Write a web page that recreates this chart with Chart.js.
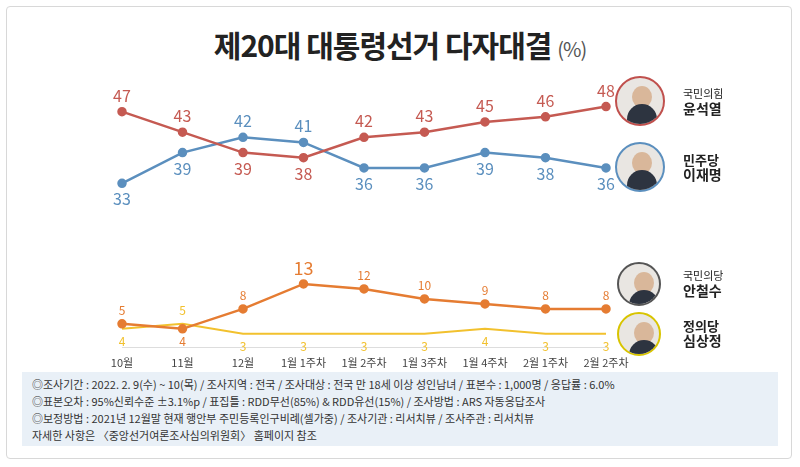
<!DOCTYPE html>
<html><head><meta charset="utf-8">
<script src="https://cdn.jsdelivr.net/npm/chart.js@4"></script>
<style>
body{margin:0;width:800px;height:467px;background:#fff;font-family:"Noto Sans CJK KR","Noto Sans",sans-serif;position:relative;overflow:hidden}
.frame{position:absolute;left:6px;top:6px;width:786px;height:453px;border:1px solid #d8d8d8;border-radius:4px;box-sizing:border-box}
.title{position:absolute;left:0;width:800px;top:22px;text-align:center;font-size:30px;font-weight:700;color:#222;letter-spacing:-1px}
.title span{font-size:20px;font-weight:400;color:#555}
canvas{position:absolute}
.ph{position:absolute;width:50px;height:50px;border-radius:50%;box-sizing:border-box;background:#e9e6e2;overflow:hidden}
.ph:after{content:"";position:absolute;left:10px;top:26px;width:30px;height:30px;border-radius:50%;background:#2d3440}
.ph:before{content:"";position:absolute;left:15px;top:8px;width:20px;height:22px;border-radius:50%;background:#d9b79a}
.nm{position:absolute;font-size:11px;color:#222;line-height:15px}
.nm b{font-size:14px;display:block}
.foot{position:absolute;left:22px;top:372px;width:756px;height:74px;background:#e9f0f7;font-size:11px;color:#333;line-height:17px;padding:4px 10px;box-sizing:border-box}
</style></head><body>
<div class="frame"></div>
<div class="title">제20대 대통령선거 다자대결 <span>(%)</span></div>
<canvas id="c1" style="left:92px;top:75px;width:544px;height:145px" width="544" height="145"></canvas>
<canvas id="c2" style="left:92px;top:250px;width:544px;height:119px" width="544" height="119"></canvas>
<div class="ph" style="left:615px;top:76px;border:2px solid #c0504d"></div>
<div class="nm" style="left:683px;top:86px">국민의힘<b>윤석열</b></div>
<div class="ph" style="left:615px;top:142px;border:2px solid #5b8fbe"></div>
<div class="nm" style="left:683px;top:152px"><b style="font-size:13px">민주당</b><b>이재명</b></div>
<div class="ph" style="left:617px;top:262px;width:44px;height:44px;border:2px solid #555"></div>
<div class="nm" style="left:683px;top:268px">국민의당<b>안철수</b></div>
<div class="ph" style="left:617px;top:312px;width:44px;height:44px;border:2px solid #d8c400"></div>
<div class="nm" style="left:683px;top:318px"><b style="font-size:13px">정의당</b><b>심상정</b></div>
<div class="foot">◎조사기간 : 2022. 2. 9(수) ~ 10(목) / 조사지역 : 전국 / 조사대상 : 전국 만 18세 이상 성인남녀 / 표본수 : 1,000명 / 응답률 : 6.0%<br>◎표본오차 : 95%신뢰수준 ±3.1%p / 표집틀 : RDD무선(85%) &amp; RDD유선(15%) / 조사방법 : ARS 자동응답조사<br>◎보정방법 : 2021년 12월말 현재 행안부 주민등록인구비례(셀가중) / 조사기관 : 리서치뷰 / 조사주관 : 리서치뷰<br>자세한 사항은 〈중앙선거여론조사심의위원회〉 홈페이지 참조</div>
<script>
const categories=["10월","11월","12월","1월 1주차","1월 2주차","1월 3주차","1월 4주차","2월 1주차","2월 2주차"];
const yoon=[47,43,39,38,42,43,45,46,48];
const lee=[33,39,42,41,36,36,39,38,36];
const ahn=[5,4,8,13,12,10,9,8,8];
const sim=[4,5,3,3,3,3,4,3,3];
const RED="#c55a52",BLUE="#5b8fbe",ORANGE="#e57c32",YELLOW="#f2c12e";
Chart.defaults.font.family='"Noto Sans CJK KR","Noto Sans",sans-serif';
function ds(data,c,w){return{data,borderColor:c,backgroundColor:c,borderWidth:w,pointRadius:w>2?3.5:0,tension:0};}
const labelPlugin={id:'lbl',afterDatasetsDraw(ch,a,opts){
 const ctx=ch.ctx;const d0=ch.data.datasets[0].data,d1=ch.data.datasets[1].data;
 ch.data.datasets.forEach((s,i)=>{const m=ch.getDatasetMeta(i);const o=i?d0:d1;
  m.data.forEach((p,j)=>{const v=s.data[j];const up=v>=o[j]&&!(v==o[j]&&i==1);
   const big=opts.big&&v===13;
   ctx.save();ctx.fillStyle=s.borderColor;ctx.textAlign='center';
   ctx.font=(big?18:(opts.size||16))+'px "Noto Sans CJK KR"';
   ctx.textBaseline=up?'bottom':'top';ctx.fillText(v,p.x,up?p.y-(opts.gap||8):p.y+(opts.gap||8));ctx.restore();});});}};
new Chart(document.getElementById('c1'),{type:'line',data:{labels:categories,datasets:[ds(yoon,RED,2.5),ds(lee,BLUE,2.5)]},
 options:{responsive:false,animation:false,layout:{padding:{left:30,right:30,top:0,bottom:0}},
 plugins:{legend:{display:false},tooltip:{enabled:false},lbl:{size:16,gap:8}},
 scales:{x:{display:false},y:{display:false,min:27.1,max:52.9}}},plugins:[labelPlugin]});
new Chart(document.getElementById('c2'),{type:'line',data:{labels:categories,datasets:[ds(ahn,ORANGE,2.5),ds(sim,YELLOW,2)]},
 options:{responsive:false,animation:false,layout:{padding:{left:30,right:30,top:10,bottom:0}},
 plugins:{legend:{display:false},tooltip:{enabled:false},lbl:{size:12,gap:7,big:true}},
 scales:{x:{grid:{display:false},border:{color:"#ddd"},ticks:{color:"#444",font:{size:11},maxRotation:0,autoSkip:false,padding:0}},
 y:{display:false,min:0.2,max:17.8}}},plugins:[labelPlugin]});
</script>
</body></html>
